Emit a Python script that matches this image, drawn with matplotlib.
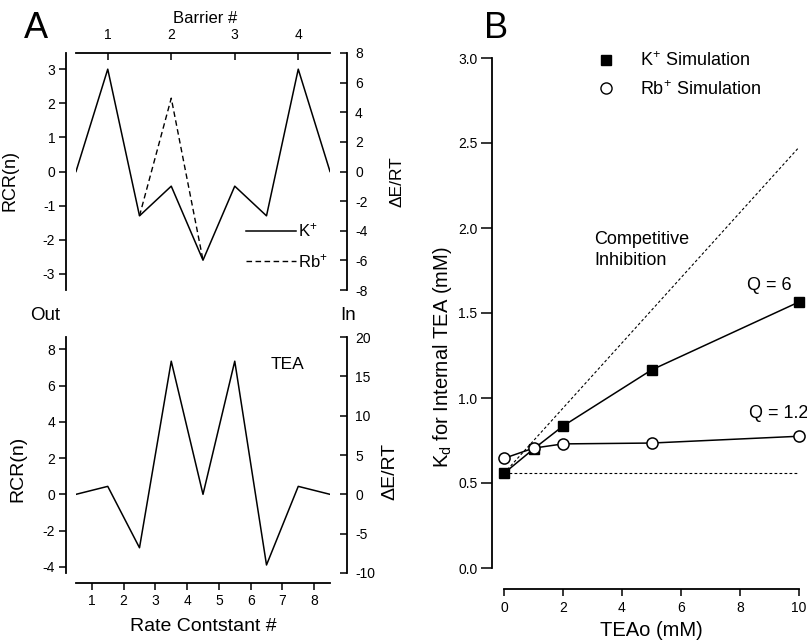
import numpy as np
import matplotlib
matplotlib.use("Agg")
import matplotlib.pyplot as plt
from matplotlib.lines import Line2D

plt.rcParams['font.family'] = ['Liberation Sans', 'DejaVu Sans']
plt.rcParams['mathtext.fontset'] = 'custom'
plt.rcParams['mathtext.rm'] = 'Liberation Sans'
plt.rcParams['mathtext.it'] = 'Liberation Sans'
plt.rcParams['axes.unicode_minus'] = False

LN10 = np.log(10)

# ---- panel A data ----
rate_const = [0.5, 1.5, 2.5, 3.5, 4.5, 5.5, 6.5, 7.5, 8.5]
k_rcr = [0.0, 3.0, -1.3, -0.43, -2.6, -0.43, -1.3, 3.0, 0.0]
rb_x = [2.5, 3.5, 4.5]
rb_rcr = [-1.3, 2.15, -2.6]
barrier_pos = [1.5, 3.5, 5.5, 7.5]
barrier_lab = ["1", "2", "3", "4"]
tea_rcr = [0.0, 0.44, -2.95, 7.35, 0.0, 7.35, -3.9, 0.44, 0.0]
rate_ticks = [1, 2, 3, 4, 5, 6, 7, 8]

# ---- panel B data ----
teao = [0, 1, 2, 5, 10]
k_kd = [0.557, 0.70, 0.835, 1.165, 1.565]
rb_kd = [0.645, 0.705, 0.73, 0.735, 0.775]
comp_x = [0, 10]
comp_y = [0.557, 2.475]
base_y = [0.557, 0.557]

W, H = 807, 643
fig = plt.figure(figsize=(W / 100, H / 100), dpi=100)


def box(x0, y0, x1, y1):
    # pixel box (top-left origin) -> figure fraction rect
    return [x0 / W, 1 - y1 / H, (x1 - x0) / W, (y1 - y0) / H]


TK = dict(length=5, width=1.1, labelsize=10)

# ---------------- A top ----------------
ax1 = fig.add_axes(box(76, 53, 330, 290))
ax1.plot(rate_const, k_rcr, color="k", lw=1.1)
ax1.plot(rb_x, rb_rcr, color="k", lw=1.0, ls=(0, (4, 2.5)))
ax1.set_xlim(0.5, 8.5)
ax1.set_ylim(-8 / LN10, 8 / LN10)
ax1.spines["bottom"].set_visible(False)
ax1.spines["right"].set_visible(False)
ax1.spines["left"].set_position(("outward", 7))
for s in ("top", "left"):
    ax1.spines[s].set_linewidth(1.3)
ax1.xaxis.tick_top()
ax1.xaxis.set_label_position("top")
ax1.set_xticks(barrier_pos)
ax1.set_xticklabels(barrier_lab)
ax1.tick_params(axis="x", direction="in", pad=8, **TK)
ax1.set_yticks([-3, -2, -1, 0, 1, 2, 3])
ax1.tick_params(axis="y", direction="out", pad=3, **TK)
ax1.set_xlabel("Barrier #", fontsize=12)
ax1.xaxis.set_label_coords(0.508, 1.125)
ax1.set_ylabel("RCR(n)", fontsize=13)
ax1.yaxis.set_label_coords(-0.228, 0.464)

ax1r = ax1.twinx()
ax1r.set_ylim(-8, 8)
ax1r.set_yticks([-8, -6, -4, -2, 0, 2, 4, 6, 8])
for s in ("top", "bottom", "left"):
    ax1r.spines[s].set_visible(False)
ax1r.spines["right"].set_position(("outward", 12))
ax1r.spines["right"].set_linewidth(1.3)
ax1r.tick_params(axis="y", direction="in", pad=6, **TK)
ax1r.set_ylabel("\u0394E/RT", fontsize=12.5)
ax1r.yaxis.set_label_coords(1.236, 0.456)

leg_handles = [Line2D([], [], color="k", lw=1.1),
               Line2D([], [], color="k", lw=1.0, ls=(0, (4, 2.5)))]
ax1.legend(leg_handles, ["K$^\\mathregular{+}$", "Rb$^\\mathregular{+}$"],
           loc="lower right", bbox_to_anchor=(1.05, 0.02), frameon=False,
           fontsize=12, handlelength=3.0, handletextpad=0.1, labelspacing=0.75)

# ---------------- A bottom ----------------
ax2 = fig.add_axes(box(76, 337, 330, 573))
ax2.plot(rate_const, tea_rcr, color="k", lw=1.1)
ax2.set_xlim(0.5, 8.5)
ax2.set_ylim(-10 / LN10, 20 / LN10)
ax2.spines["top"].set_visible(False)
ax2.spines["right"].set_visible(False)
ax2.spines["left"].set_position(("outward", 7))
ax2.spines["bottom"].set_position(("outward", 7))
for s in ("bottom", "left"):
    ax2.spines[s].set_linewidth(1.3)
ax2.set_xticks(rate_ticks)
ax2.set_yticks([-4, -2, 0, 2, 4, 6, 8])
ax2.tick_params(direction="out", pad=3, **TK)
ax2.set_xlabel("Rate Contstant #", fontsize=14, va="center")
ax2.xaxis.set_label_coords(0.5, -0.225)
ax2.set_ylabel("RCR(n)", fontsize=14, va="center")
ax2.yaxis.set_label_coords(-0.228, 0.44)
ax2.text(0.765, 0.885, "TEA", transform=ax2.transAxes, fontsize=12.5,
         ha="left", va="center")

ax2r = ax2.twinx()
ax2r.set_ylim(-10, 20)
ax2r.set_yticks([-10, -5, 0, 5, 10, 15, 20])
for s in ("top", "bottom", "left"):
    ax2r.spines[s].set_visible(False)
ax2r.spines["right"].set_position(("outward", 12))
ax2r.spines["right"].set_linewidth(1.3)
ax2r.tick_params(axis="y", direction="in", pad=6, **TK)
ax2r.set_ylabel("\u0394E/RT", fontsize=14, va="center")
ax2r.yaxis.set_label_coords(1.236, 0.432)

# ---------------- B ----------------
ax3 = fig.add_axes(box(504, 58, 799, 568))
ax3.plot(comp_x, comp_y, color="k", lw=0.8, ls=(0, (2.5, 2)))
ax3.plot(comp_x, base_y, color="k", lw=0.8, ls=(0, (2.5, 2)))
ax3.plot(teao, k_kd, color="k", lw=1.1, marker="s", ms=7.5, mfc="k", mec="k",
         clip_on=False, zorder=3)
ax3.plot(teao, rb_kd, color="k", lw=1.1, marker="o", ms=8, mfc="white",
         mec="k", mew=1.1, clip_on=False, zorder=4)
ax3.set_xlim(0, 10)
ax3.set_ylim(0, 3)
ax3.spines["top"].set_visible(False)
ax3.spines["right"].set_visible(False)
ax3.spines["left"].set_position(("outward", 9))
ax3.spines["bottom"].set_position(("outward", 15))
for s in ("bottom", "left"):
    ax3.spines[s].set_linewidth(1.3)
ax3.set_xticks([0, 2, 4, 6, 8, 10])
ax3.set_yticks([0.0, 0.5, 1.0, 1.5, 2.0, 2.5, 3.0])
ax3.set_yticklabels(["0.0", "0.5", "1.0", "1.5", "2.0", "2.5", "3.0"])
ax3.tick_params(axis="x", direction="out", length=5, width=1.1, labelsize=10, pad=4)
ax3.tick_params(axis="y", direction="out", length=8, width=1.1, labelsize=10, pad=2)
ax3.set_xlabel("TEAo (mM)", fontsize=14.5, va="center")
ax3.xaxis.set_label_coords(0.50, -0.122)
ax3.set_ylabel("K$_\\mathregular{d}$ for Internal TEA (mM)", fontsize=14.5, va="center")
ax3.yaxis.set_label_coords(-0.21, 0.414)

ax3.text(0.305, 0.624, "Competitive\nInhibition", transform=ax3.transAxes,
         fontsize=13, ha="left", va="center", linespacing=1.3)
ax3.text(0.825, 0.554, "Q = 6", transform=ax3.transAxes, fontsize=13,
         ha="left", va="center")
ax3.text(0.83, 0.303, "Q = 1.2", transform=ax3.transAxes, fontsize=13,
         ha="left", va="center")

bh = [Line2D([], [], ls="none", marker="s", ms=7.5, mfc="k", mec="k"),
      Line2D([], [], ls="none", marker="o", ms=8, mfc="white", mec="k")]
ax3.legend(bh, ["K$^\\mathregular{+}$ Simulation", "Rb$^\\mathregular{+}$ Simulation"],
           loc="upper left", bbox_to_anchor=(0.23, 1.045), frameon=False,
           fontsize=13, handletextpad=0.9, labelspacing=0.55)

# panel letters and side labels
fig.text(24 / W, 1 - 38 / H, "A", fontsize=26, ha="left", va="baseline")
fig.text(484 / W, 1 - 38 / H, "B", fontsize=26, ha="left", va="baseline")
fig.text(30 / W, 1 - 320 / H, "Out", fontsize=13.5, ha="left", va="baseline")
fig.text(340 / W, 1 - 320 / H, "In", fontsize=13.5, ha="left", va="baseline")

fig.savefig("out.png", dpi=100)
